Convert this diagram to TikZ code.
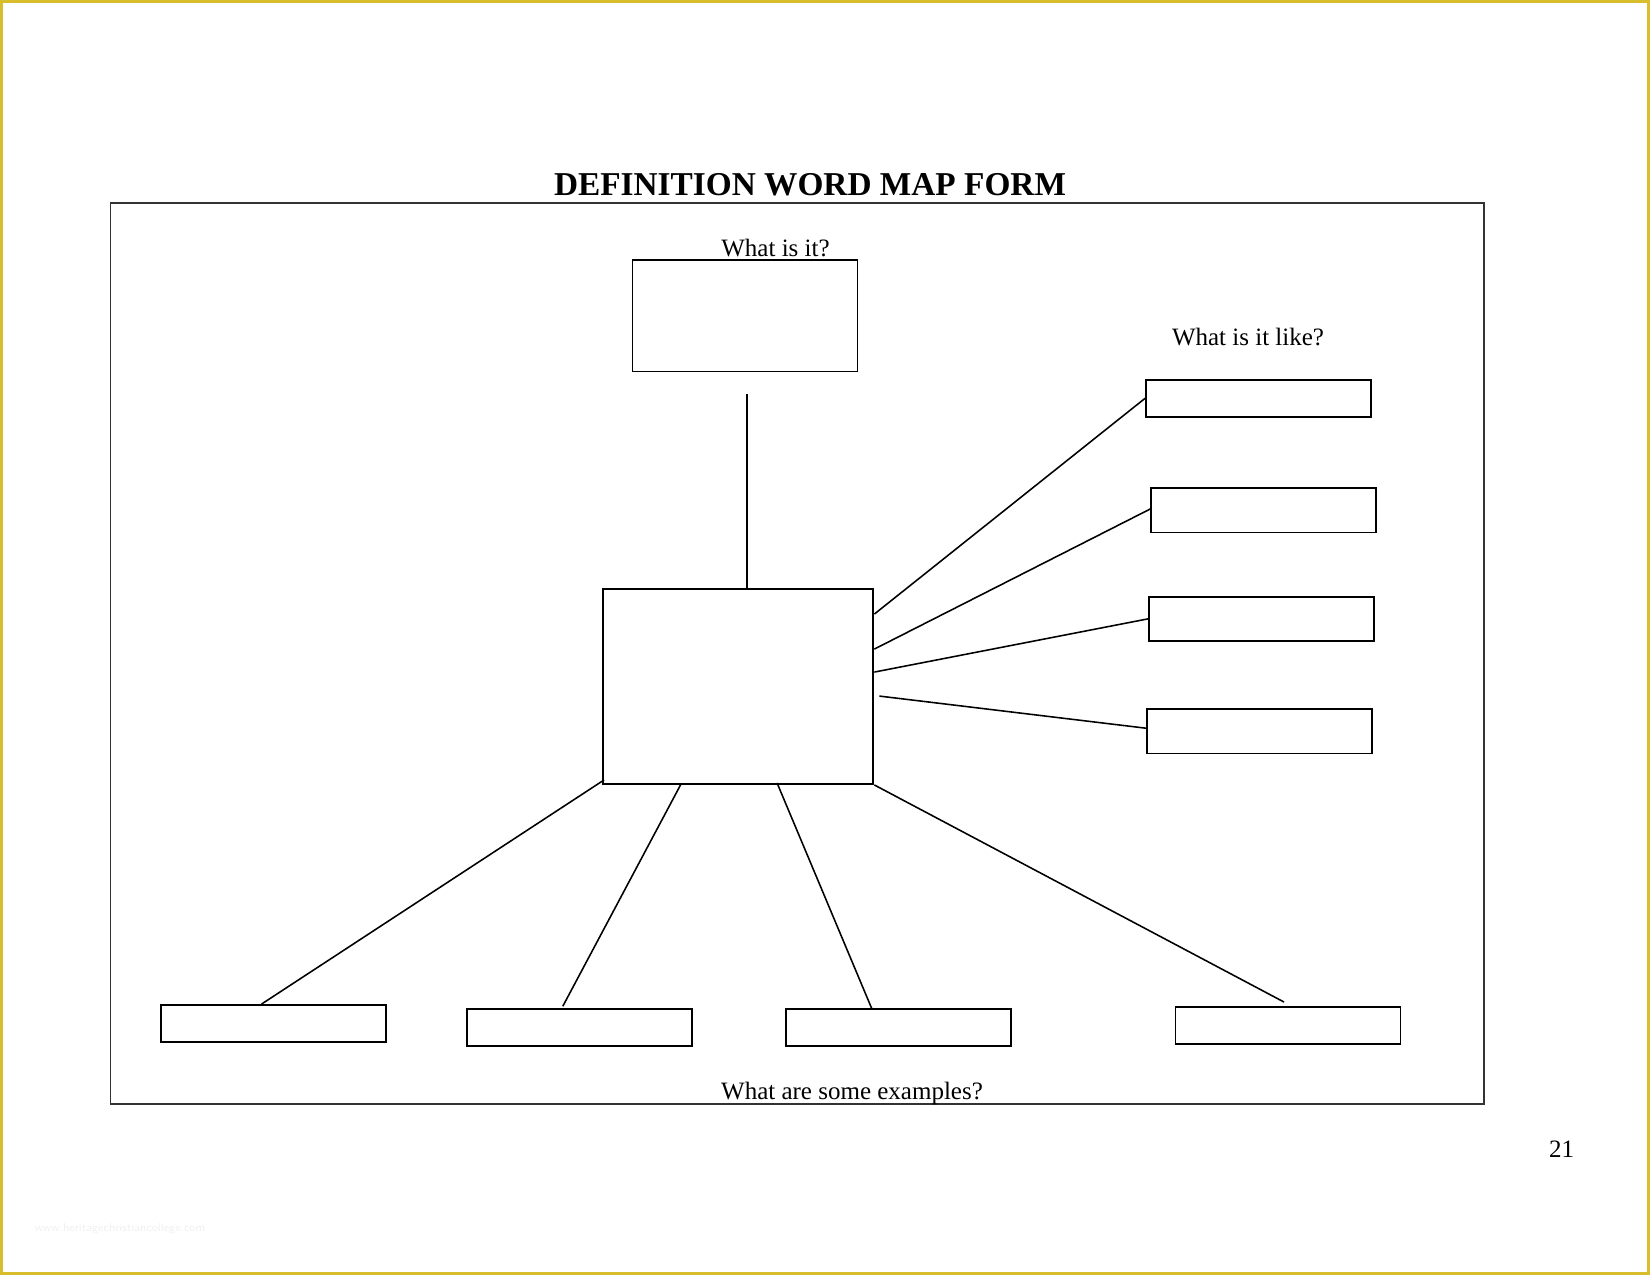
\documentclass[tikz,border=0pt]{standalone}
\usepackage{fontspec}
\setmainfont{Liberation Serif}
\usepackage{tikz}
\usetikzlibrary{calc}
\definecolor{pageedge}{HTML}{D8BE2C}
\colorlet{markgray}{black!6}
\tikzset{
  mapbox/.style={draw=black, line width=0.9pt, rectangle, inner sep=0pt,
    minimum width=108pt},
  maplink/.style={draw=black, line width=0.75pt},
  question/.style={inner sep=0pt, font=\fontsize{12}{14}\selectfont}
}

\begin{document}
\begin{tikzpicture}[x=0.48pt, y=-0.48pt]

    % Page and yellow edge
    \useasboundingbox (0,0) rectangle (1650,1275);
    \draw[pageedge, line width=1.44pt] (1.5,1.5) rectangle (1648.5,1273.5);

    % Title and frame
    \node[inner sep=0pt, font=\fontsize{16}{19}\selectfont\bfseries] (title)
      at (810,185) {DEFINITION WORD MAP FORM};
    \draw[line width=0.7pt, black!80] (110.5,203) rectangle (1484,1104);

    % Boxes
    \node[mapbox, minimum height=53.5pt] (top) at (745,315.7) {};
    \node[mapbox, minimum width=129.8pt, minimum height=93.6pt] (mid) at (738.2,686.5) {};

    \node[mapbox, minimum height=17.6pt] (r1) at (1258.5,398.3) {};
    \node[mapbox, minimum height=21.4pt] (r2) at (1263.2,510.2) {};
    \node[mapbox, minimum height=21.2pt] (r3) at (1261.7,618.8) {};
    \node[mapbox, minimum height=21.4pt] (r4) at (1259.5,731.2) {};

    \node[mapbox, minimum height=17.7pt] (b1) at (273.6,1023.4) {};
    \node[mapbox, minimum height=17.7pt] (b2) at (579.8,1027.6) {};
    \node[mapbox, minimum height=17.7pt] (b3) at (898.6,1027.6) {};
    \node[mapbox, minimum height=17.7pt] (b4) at (1288,1025.4) {};

    % Labels
    \node[question] (whatis) at (775.5,248.5) {What is it?};
    \node[question] (like) at (1248,337) {What is it like?};
    \node[question] (examples) at (852,1093) {What are some examples?};
    \node[question] (pagenum) at (1561.5,1149.5) {21};
    \node[inner sep=0pt, text=markgray, font=\sffamily\fontsize{5.5}{6}\selectfont]
      (site) at (120,1229) {www.heritagechristiancollege.com};

    % Links up and right
    \draw[maplink] ($(top.south)+(2,22)$) -- ($(top.south |- mid.north)+(2,0)$);
    \draw[maplink] ($(mid.north east)+(0,26)$) -- (r1.west);
    \draw[maplink] ($(mid.north east)+(0,61)$) -- ($(r2.west)+(2,-2)$);
    \draw[maplink] ($(mid.north east)+(0,84)$) -- (r3.west);
    \draw[maplink] ($(mid.north east)+(5,108)$) -- ($(r4.west)+(0,-3)$);

    % Links down
    \draw[maplink] ($(mid.south west)+(2,-5)$) -- ($(b1.north)+(-12,0)$);
    \draw[maplink] ($(mid.south west)+(79,-1)$) -- ($(b2.north)+(-17,-2)$);
    \draw[maplink] ($(mid.south west)+(175,-2)$) -- ($(b3.north)+(-27,0)$);
    \draw[maplink] (mid.south east) -- ($(b4.north)+(-4,-4)$);

  \end{tikzpicture}
\end{document}
